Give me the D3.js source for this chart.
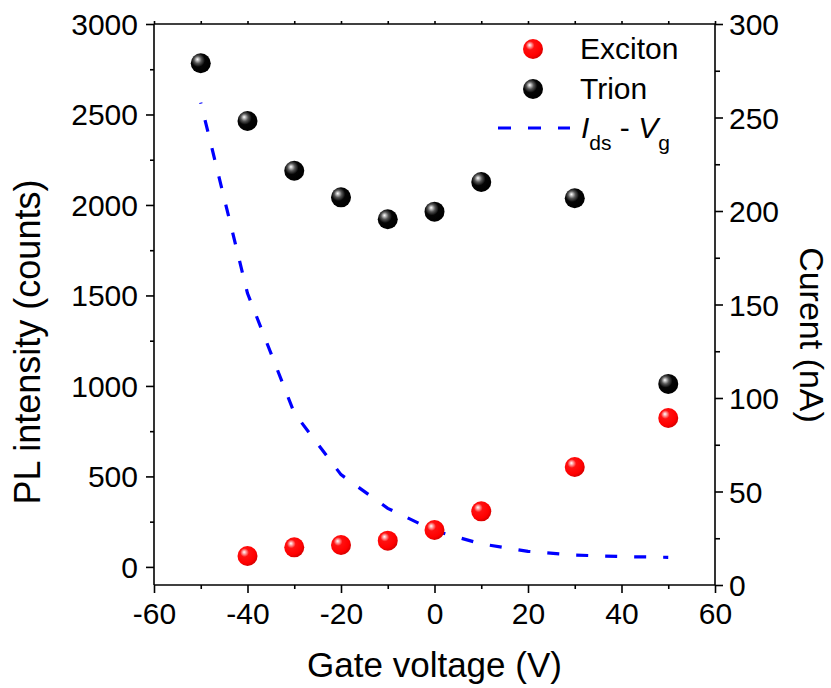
<!DOCTYPE html>
<html>
<head>
<meta charset="utf-8">
<script src="https://cdn.jsdelivr.net/npm/d3@7"></script>
<style>
  html, body { margin: 0; padding: 0; background: #fff; }
  svg { display: block; font-family: "Liberation Sans", Arial, sans-serif; }
</style>
</head>
<body>
<svg id="chart" width="831" height="688"></svg>
<script>
// Gate voltage sweep (V)
const gateVoltage = [-40, -30, -20, -10, 0, 10, 30, 50];
const trionVoltage = [-50, -40, -30, -20, -10, 0, 10, 30, 50];
// PL intensity (counts)
const excitonCounts = [60, 108, 121, 145, 204, 307, 552, 823];
const trionCounts = [2783, 2464, 2189, 2042, 1921, 1963, 2127, 2037, 1011];
// Drain-source current vs gate voltage (nA)
const idsVoltage = [-50, -40, -30, -20, -10, 0, 10, 20, 30, 40, 50];
const idsCurrent = [258, 156, 92, 59, 41, 29, 22, 18, 16, 15.2, 14.8];
// Tick labels
const xTicks = [-60, -40, -20, 0, 20, 40, 60];
const yLeftTicks = [0, 500, 1000, 1500, 2000, 2500, 3000];
const yRightTicks = [0, 50, 100, 150, 200, 250, 300];

const svg = d3.select("#chart");
const L = 154, R = 715, T = 24, B = 585;

const x = d3.scaleLinear().domain([-60, 60]).range([L, R]);
const yL = d3.scaleLinear().domain([-100, 3000]).range([B, T]);
const yR = d3.scaleLinear().domain([0, 300]).range([B, T]);

// sphere shading
const defs = svg.append("defs");
function sphere(id, stops) {
  const g = defs.append("radialGradient").attr("id", id)
    .attr("cx", "40%").attr("cy", "38%").attr("fx", "33%").attr("fy", "30%").attr("r", "62%");
  stops.forEach(([o, c]) => g.append("stop").attr("offset", o).attr("stop-color", c));
}
sphere("ballRed", [["0%", "#ffffff"], ["12%", "#ffb0b0"], ["35%", "#ff1010"], ["80%", "#ff0000"], ["100%", "#d80000"]]);
sphere("ballBlack", [["0%", "#ffffff"], ["10%", "#c8c8c8"], ["30%", "#555555"], ["55%", "#050505"], ["100%", "#000000"]]);

const axisW = 1.6;
const fontTick = 30;

// top frame line
svg.append("line").attr("x1", L).attr("x2", R).attr("y1", T).attr("y2", T)
  .attr("stroke", "#000").attr("stroke-width", axisW);

// bottom axis
const gx = svg.append("g").attr("transform", `translate(0,${B})`);
gx.call(d3.axisBottom(x).tickValues(d3.range(-60, 61, 10)).tickSize(4).tickFormat(""));
gx.call(g => g.selectAll(".tick").filter(d => d % 20 === 0).select("line").attr("y2", 8));
gx.selectAll(".tick").filter(d => xTicks.includes(d)).append("text")
  .attr("y", 39).attr("fill", "#000").attr("font-size", fontTick).attr("text-anchor", "middle")
  .text(d => d);

// top ticks (unlabelled)
const gt = svg.append("g").attr("transform", `translate(0,${T})`);
gt.call(d3.axisTop(x).tickValues(d3.range(-60, 61, 10)).tickSize(3).tickFormat(""));

// left axis
const gl = svg.append("g").attr("transform", `translate(${L},0)`);
gl.call(d3.axisLeft(yL).tickValues(d3.range(0, 3001, 250)).tickSize(4).tickFormat(""));
gl.selectAll(".tick").filter(d => d % 500 === 0).select("line").attr("x2", -8);
gl.selectAll(".tick").filter(d => yLeftTicks.includes(d)).append("text")
  .attr("x", -16).attr("dy", "0.35em").attr("fill", "#000").attr("font-size", fontTick)
  .attr("text-anchor", "end").text(d => d);

// right axis
const gr = svg.append("g").attr("transform", `translate(${R},0)`);
gr.call(d3.axisRight(yR).tickValues(d3.range(0, 301, 25)).tickSize(5).tickFormat(""));
gr.selectAll(".tick").filter(d => d % 50 === 0).select("line").attr("x2", 8);
gr.selectAll(".tick").filter(d => yRightTicks.includes(d)).append("text")
  .attr("x", 14).attr("dy", "0.35em").attr("fill", "#000").attr("font-size", fontTick)
  .attr("text-anchor", "start").text(d => d);

[gx, gt, gl, gr].forEach(g => {
  g.selectAll("path.domain").attr("stroke", "#000").attr("stroke-width", axisW);
  g.selectAll(".tick line").attr("stroke", "#000").attr("stroke-width", axisW);
});
gt.select("path.domain").remove();
gx.select("path.domain").attr("d", `M${L},0H${R}`);
gl.select("path.domain").attr("d", `M0,${B}V${T}`);
gr.select("path.domain").attr("d", `M0,${B}V${T}`);

// axis titles
svg.append("text").attr("x", (L + R) / 2).attr("y", 677).attr("text-anchor", "middle")
  .attr("font-size", 35).attr("fill", "#000").text("Gate voltage (V)");
svg.append("text").attr("transform", "translate(40,342) rotate(-90)").attr("text-anchor", "middle")
  .attr("font-size", 36).attr("fill", "#000").text("PL intensity (counts)");
svg.append("text").attr("transform", "translate(800,335) rotate(90)").attr("text-anchor", "middle")
  .attr("font-size", 34).attr("fill", "#000").text("Curent (nA)");

// current curve (right axis)
const line = d3.line().x((d, i) => x(idsVoltage[i])).y(d => yR(d));
svg.append("path").datum(idsCurrent).attr("d", line)
  .attr("fill", "none").attr("stroke", "#0000ff").attr("stroke-width", 3.2)
  .attr("stroke-dasharray", "12,17").attr("stroke-dashoffset", 11);

// PL markers
const rBall = 10;
svg.append("g").selectAll("circle").data(trionCounts).join("circle")
  .attr("cx", (d, i) => x(trionVoltage[i])).attr("cy", d => yL(d)).attr("r", rBall)
  .attr("fill", "url(#ballBlack)");
svg.append("g").selectAll("circle").data(excitonCounts).join("circle")
  .attr("cx", (d, i) => x(gateVoltage[i])).attr("cy", d => yL(d)).attr("r", rBall)
  .attr("fill", "url(#ballRed)");

// legend
const lg = svg.append("g");
lg.append("circle").attr("cx", 533).attr("cy", 49).attr("r", rBall).attr("fill", "url(#ballRed)");
lg.append("text").attr("x", 580).attr("y", 59).attr("font-size", fontTick).attr("fill", "#000").text("Exciton");
lg.append("circle").attr("cx", 533).attr("cy", 89).attr("r", rBall).attr("fill", "url(#ballBlack)");
lg.append("text").attr("x", 580).attr("y", 99).attr("font-size", fontTick).attr("fill", "#000").text("Trion");
lg.append("line").attr("x1", 498).attr("x2", 570).attr("y1", 128).attr("y2", 128)
  .attr("stroke", "#0000ff").attr("stroke-width", 3.2).attr("stroke-dasharray", "13,17");
const lt = lg.append("text").attr("x", 581).attr("y", 138).attr("font-size", fontTick).attr("fill", "#000");
lt.append("tspan").attr("font-style", "italic").text("I");
lt.append("tspan").attr("font-size", 21).attr("dy", 12).text("ds");
lt.append("tspan").attr("dy", -12).text(" - ");
lt.append("tspan").attr("font-style", "italic").text("V");
lt.append("tspan").attr("font-size", 21).attr("dy", 12).text("g");
</script>
</body>
</html>
